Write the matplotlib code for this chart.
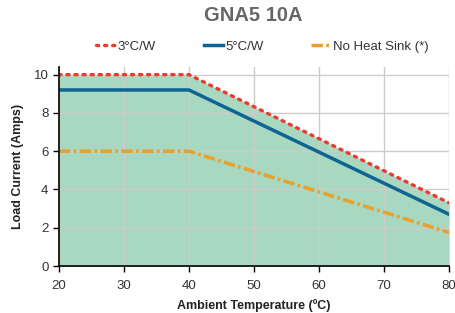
import matplotlib
matplotlib.use("Agg")
import matplotlib.pyplot as plt

plt.rcParams['font.family'] = ['Liberation Sans', 'DejaVu Sans']

temps = [20, 40, 80]
s3 = [10, 10, 3.3]
s5 = [9.2, 9.2, 2.7]
snh = [6, 6, 1.75]
xticks = [20, 30, 40, 50, 60, 70, 80]
yticks = [0, 2, 4, 6, 8, 10]

fig = plt.figure(figsize=(4.56, 3.13), dpi=100)
ax = fig.add_axes([0.129, 0.150, 0.856, 0.636])

ax.fill_between(temps, s3, 0, color='#a8d8bf', zorder=1, linewidth=0)
ax.grid(True, color='#cccccc', linewidth=1.0, zorder=2)
ax.set_axisbelow(False)
l3, = ax.plot(temps, s3, color='#ee3a2e', linestyle=(0, (0.67, 1.75)), linewidth=2.4,
              dash_capstyle='round', zorder=4, label='3°C/W')
l5, = ax.plot(temps, s5, color='#0e6494', linewidth=2.5, zorder=3, label='5°C/W')
lnh, = ax.plot(temps, snh, color='#e8a12c', linestyle=(0, (3.3, 0.95, 0.8, 0.95)), linewidth=2.5,
               zorder=3, label='No Heat Sink (*)')

ax.set_xlim(20, 80)
ax.set_ylim(0, 10.4)
ax.set_xticks(xticks)
ax.set_yticks(yticks)
for s in ['top', 'right']:
    ax.spines[s].set_visible(False)
for s in ['left', 'bottom']:
    ax.spines[s].set_color('black')
    ax.spines[s].set_linewidth(1.2)
    ax.spines[s].set_zorder(5)
ax.tick_params(axis='both', labelsize=9.5, colors='#333333', length=4, width=1, direction='out')
ax.tick_params(axis='x', pad=6)
ax.tick_params(axis='both', color='black')
ax.set_xlabel('Ambient Temperature (ºC)', fontsize=9, fontweight='bold', color='#222222', labelpad=5)
ax.set_ylabel('Load Current (Amps)', fontsize=9, fontweight='bold', color='#222222', labelpad=7)

fig.text(0.556, 0.952, 'GNA5 10A', fontsize=14.5, fontweight='bold', color='#666666', ha='center', va='center')
fig.legend(handles=[l3, l5, lnh], loc='center', bbox_to_anchor=(0.575, 0.85), ncol=3, frameon=False,
           fontsize=9.5, handlelength=1.5, handletextpad=0.15, columnspacing=3.6, labelcolor='#333333')

fig.savefig('out.png', dpi=100)
